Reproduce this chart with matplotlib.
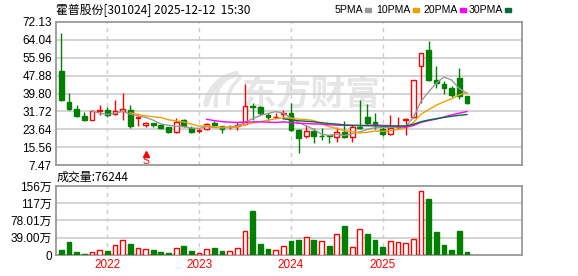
import matplotlib.pyplot as plt
import numpy as np
import pandas as pd
from matplotlib.patches import Rectangle, PathPatch
from matplotlib.path import Path

plt.rcParams['font.family'] = ['Liberation Sans', 'Noto Sans CJK SC']

# monthly K-line data, first candle = Jul 2021
start_month = '2021-07'
opens = [50.0, 36.0, 32.8, 29.6, 28.0, 32.0, 32.3, 30.4, 32.0, 32.3,
         28.6, 25.5, 26.3, 25.4, 24.5, 22.2, 27.8, 24.3, 23.0, 23.6,
         26.3, 25.1, 24.5, 24.9, 25.9, 34.3, 33.5, 30.1, 29.1, 30.5,
         30.8, 23.3, 20.4, 22.9, 20.8, 20.9, 20.0, 22.6, 20.0, 24.6,
         29.0, 26.8, 23.7, 21.5, 24.8, 27.6, 29.0, 52.2, 59.5, 45.9,
         44.1, 42.2, 46.7, 38.7]
highs = [67.3, 40.2, 34.6, 31.3, 32.3, 34.6, 33.5, 36.9, 39.9, 34.6,
         29.5, 26.9, 26.6, 25.9, 24.6, 28.5, 28.4, 25.1, 23.7, 26.5,
         27.2, 25.3, 25.5, 27.1, 44.1, 35.5, 34.2, 31.0, 30.8, 32.4,
         35.4, 23.6, 25.5, 24.0, 24.1, 21.2, 24.8, 27.4, 25.5, 36.9,
         34.9, 30.9, 25.2, 30.1, 29.0, 28.8, 46.0, 58.2, 63.5, 52.2,
         45.4, 43.0, 51.5, 38.8]
lows = [36.4, 32.3, 29.2, 27.5, 27.6, 30.0, 29.3, 30.0, 27.8, 24.0,
        25.1, 24.8, 24.8, 23.8, 22.0, 22.0, 24.6, 21.8, 21.9, 23.4,
        24.8, 22.1, 23.8, 23.5, 25.6, 28.0, 30.3, 27.4, 28.5, 29.3,
        23.0, 13.0, 19.5, 17.3, 18.8, 17.3, 18.0, 19.9, 18.0, 23.8,
        25.5, 23.9, 20.5, 21.2, 23.7, 21.0, 28.6, 35.5, 45.4, 42.5,
        39.5, 38.0, 37.4, 35.2]
closes = [36.9, 32.9, 29.6, 27.8, 31.9, 32.4, 30.0, 31.9, 32.7, 25.2,
          29.0, 26.3, 25.5, 24.2, 22.2, 27.0, 25.2, 22.3, 23.4, 26.0,
          25.5, 23.7, 24.8, 25.5, 34.3, 33.9, 30.9, 29.4, 29.4, 30.9,
          23.3, 19.8, 22.8, 20.8, 20.4, 20.4, 22.3, 20.3, 24.8, 24.3,
          26.6, 25.6, 21.5, 24.1, 25.2, 28.1, 45.9, 58.0, 45.9, 44.4,
          42.1, 39.0, 38.7, 35.3]
# volume in 万手
volumes = [11.3, 30.1, 6.8, 2.3, 6.0, 11.3, 9.0, 21.9, 33.9, 24.9,
           15.1, 12.8, 11.3, 7.5, 4.5, 15.1, 20.3, 9.0, 4.5, 12.8,
           15.8, 9.0, 9.0, 15.1, 54.3, 100.2, 24.9, 13.6, 11.3, 20.3,
           32.0, 33.9, 39.9, 33.9, 31.7, 20.3, 47.5, 65.6, 17.3, 58.0,
           47.5, 33.9, 18.1, 31.7, 29.4, 27.1, 35.4, 143.9, 126.6, 52.0,
           22.6, 11.3, 54.3, 7.6244]
vol_red = [0, 0, 0, 0, 1, 1, 0, 1, 1, 0, 1, 1, 0, 0, 0, 1, 0, 0, 1, 1,
           0, 0, 1, 1, 1, 0, 0, 0, 1, 1, 0, 0, 1, 0, 1, 0, 1, 0, 1, 1,
           0, 0, 0, 1, 1, 1, 1, 1, 0, 0, 0, 0, 0, 0]

price_ticks = [7.47, 15.56, 23.64, 31.72, 39.80, 47.88, 55.96, 64.04, 72.13]
vol_ticks = [0, 39.00, 78.01, 117, 156]
vol_tick_labels = ['0', '39.00万', '78.01万', '117万', '156万']
ma_windows = [5, 10, 20, 30]
ma_colors = ['#999999', '#f0a000', '#ff00ff', '#006f3c']
signal_idx = 11
title = '霍普股份[301024] 2025-12-12  15:30'
vol_title = '成交量:76244'

RED = '#ff0000'
GREEN = '#008000'
GRID = '#cccccc'
WM = '#e6e6e8'
W = 578
H = 276

months = pd.period_range(start_month, periods=len(closes), freq='M')
x = np.arange(len(closes))
year_pos = [i for i, m in enumerate(months) if m.month == 1]
year_lab = [str(months[i].year) for i in year_pos]

fig = plt.figure(figsize=(W / 100, H / 100), dpi=100)
ax = fig.add_axes([56 / W, 1 - 165 / H, 466 / W, 143 / H])
axv = fig.add_axes([56 / W, 1 - 255 / H, 466 / W, 69 / H])

bw = 0.62
for i in x:
    up = closes[i] >= opens[i]
    c = RED if up else GREEN
    ax.vlines(i, lows[i], highs[i], color=c, lw=1, zorder=2)
    lo = min(opens[i], closes[i])
    h = max(abs(closes[i] - opens[i]), 0.3)
    ax.bar(i, h, bw, bottom=lo, facecolor='white' if up else c,
           edgecolor=c, lw=1, zorder=3)

cs = pd.Series(closes)
for n, col in zip(ma_windows, ma_colors):
    ax.plot(x, cs.rolling(n).mean(), color=col, lw=1, zorder=4)

# sell signal
ax.plot(signal_idx, 12.3, marker='^', ms=4, color=RED, zorder=5)
ax.text(signal_idx, 9.5, 'S', color=RED, ha='center', va='center', fontsize=7.5, zorder=5)

# watermark: logo swoosh + text
def px(xp, yp):
    return (xp / W, 1 - yp / H)

for (x0, y0), (x1, y1), (x2, y2), lw in [((236, 74), (212, 80), (206, 104), 4.5),
                                          ((230, 76), (214, 86), (216, 106), 3),
                                          ((240, 78), (226, 90), (228, 104), 2.5)]:
    path = Path([px(x0, y0), px(x1, y1), px(x2, y2)], [Path.MOVETO, Path.CURVE3, Path.CURVE3])
    ax.add_patch(PathPatch(path, transform=fig.transFigure, fill=False,
                           edgecolor=WM, lw=lw, capstyle='round', zorder=0.5))
ax.text(311 / W, 1 - 94 / H, '东方财富', transform=fig.transFigure, ha='center', va='center',
        fontsize=25, fontweight='bold', color=WM, family=['Noto Sans CJK SC'], zorder=0.5)

for i in x:
    c = RED if vol_red[i] else GREEN
    axv.bar(i, volumes[i], bw, facecolor='white' if vol_red[i] else c,
            edgecolor=c, lw=1, zorder=3)

for a in (ax, axv):
    a.set_xlim(-0.7, 60.2)
    a.set_facecolor('white')
    for s in a.spines.values():
        s.set_color('#999999')
        s.set_linewidth(1.3)
    for p in year_pos:
        a.axvline(p, color=GRID, lw=1, ls=(0, (3, 3)), zorder=1)
    a.tick_params(length=0, pad=3, labelsize=8.5)

ax.set_ylim(price_ticks[0], price_ticks[-1])
ax.set_yticks(price_ticks)
ax.set_yticklabels(['%.2f' % v for v in price_ticks])
ax.set_xticks([])
for v in price_ticks[1:-1]:
    ax.axhline(v, color=GRID, lw=1.2, zorder=1)

axv.set_ylim(0, vol_ticks[-1])
axv.set_yticks(vol_ticks)
axv.set_yticklabels(vol_tick_labels)
for v in vol_ticks[1:-1]:
    axv.axhline(v, color=GRID, lw=1.2, zorder=1)
axv.set_xticks(year_pos)
axv.set_xticklabels(year_lab, color=RED, fontsize=8.5)

fig.text(56 / W, 1 - 10 / H, title, family=['Noto Sans CJK SC'], fontsize=8.6, va='center')
fig.text(57 / W, 1 - 177 / H, vol_title, family=['Noto Sans CJK SC'], fontsize=8.6, va='center')

# legend: label right-aligned against its colour swatch
swatch_x = [365, 413, 460, 505]
for sx, n, col in zip(swatch_x, ma_windows, ma_colors):
    fig.text((sx - 2) / W, 1 - 10 / H, '%dPMA' % n, fontsize=7.6, va='center', ha='right')
    fig.patches.append(Rectangle((sx / W, 1 - 12 / H), 6 / W, 4 / H,
                                 transform=fig.transFigure, color=col))

fig.savefig('out.png', dpi=100)
